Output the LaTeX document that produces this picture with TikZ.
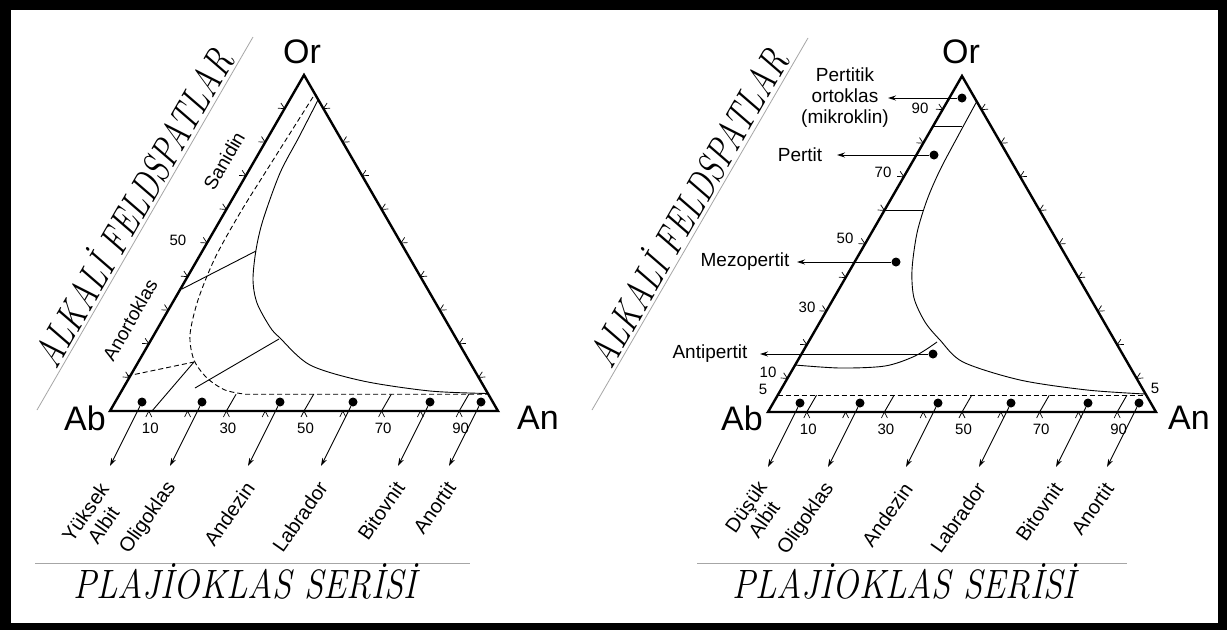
\documentclass[tikz,border=0pt]{standalone}
\usepackage{fontspec}
\usepackage{graphicx}
\newfontfamily\arial{Liberation Sans}
\usetikzlibrary{calc,arrows.meta}
\newcommand\decotext[2]{\scalebox{#1}[1]{\fontsize{41}{41}\selectfont\itshape #2}}
\newcommand\terntri[4]{%
 \coordinate (#1ab) at (#2);
 \coordinate (#1an) at (#3);
 \coordinate (#1or) at (#4);
 \draw[side] (#1ab) -- (#1an) -- (#1or) -- cycle;
 \foreach \k in {1,...,9}{%
  \coordinate (#1b\k) at ($(#1ab)!\k/10!(#1an)$);
  \draw[tickm] ([shift={(-3,6)}]#1b\k) -- (#1b\k) -- ([shift={(3,6)}]#1b\k);
  \coordinate (#1l\k) at ($(#1ab)!\k/10!(#1or)$);
  \draw[tickm] ([shift={(-3.7,-5.6)}]#1l\k) -- (#1l\k) -- ([shift={(-6.7,-0.4)}]#1l\k);
  \coordinate (#1r\k) at ($(#1or)!\k/10!(#1an)$);
  \draw[tickm] ([shift={(6.7,-0.4)}]#1r\k) -- (#1r\k) -- ([shift={(3.7,-5.6)}]#1r\k);
 }%
 \foreach \d [count=\i] in {32,92,170,243,320,371}{%
  \node[dot] (#1d\i) at ([shift={(\d,-9)}]#1ab) {};
  \coordinate (#1t\i) at ([shift={({\d-32},55)}]#1ab);
  \draw[arr] (#1d\i) -- (#1t\i);
 }%
 \foreach \n [count=\i from 2] in {Oligoklas,Andezin,Labrador,Bitovnit,Anortit}{%
  \node[rlab, rotate=55, anchor=east] (#1n\i) at ([shift={(2,18)}]#1t\i) {\n};
 }%
 \foreach \k in {1,3,5,7,9}{%
  \node[num] (#1v\k) at ([shift={(1.5,17)}]#1b\k) {\k0};
 }%
}
\begin{document}
\begin{tikzpicture}[x=1pt,y=-1pt,
  side/.style={line width=2.4pt},
  tickm/.style={line width=0.7pt},
  thinl/.style={line width=0.9pt},
  dashline/.style={line width=0.9pt, dash pattern=on 5pt off 3pt},
  dot/.style={circle, fill=black, inner sep=0pt, minimum size=9pt},
  arr/.style={line width=0.9pt, -{Stealth[length=8pt,width=5pt]}},
  lab/.style={font=\arial\fontsize{19}{21}\selectfont, inner sep=0pt},
  rlab/.style={font=\arial\fontsize{20}{22}\selectfont, inner sep=0pt},
  num/.style={font=\arial\fontsize{15}{17}\selectfont, inner sep=0pt},
  vtx/.style={font=\arial\fontsize{34}{36}\selectfont, inner sep=0pt},
  grayline/.style={draw=black!35, line width=0.8pt},
  deco/.style={inner sep=0pt}]
\useasboundingbox (0,0) rectangle (1227,630);
\fill[black] (0,0) rectangle (1227,630);
\fill[white] (11,10) rectangle (1218,623);

% ---------- left triangle ----------
\terntri{L}{110,411}{498,411}{304,75}
\foreach \k in {3,5,7,9}{\draw[thinl] (Lb\k) -- ([shift={(9.7,-16.8)}]Lb\k);}
\node[vtx] (LOrl) at (302,52) {Or};
\node[vtx] (LAbl) at (85,418) {Ab};
\node[vtx] (LAnl) at (538,418) {An};
\node[rlab, rotate=55, align=center, anchor=north east] (Ln1) at (98,481) {Yüksek\\Albit};
% solvus
\draw[thinl] plot[smooth] coordinates {(318,100) (299,137) (280,173) (263,220) (256,250) (253,280) (257,303) (270,327) (280,338) (310,365) (363,381) (430,391) (488,393.5)};
% dashed boundary
\coordinate (Ld5) at ($(Lan)!0.05!(Lor)$);
\draw[dashline] plot[smooth] coordinates {(313,97) (270,165) (240,213) (215,258) (198,300) (190,335) (194,360) (207,378) (225,390) (245,394.2)} -- (Ld5);
% tie lines
\coordinate (Lk1) at (127,376); \coordinate (Lk2) at (194,362);
\coordinate (Lk3) at (152,411);
\coordinate (Lk4) at (182,289); \coordinate (Lk5) at (256,251);
\coordinate (Lk6) at (195,388); \coordinate (Lk7) at (279,339);
\draw[dashline] (Lk1) -- (Lk2);
\draw[thinl] (Lk3) -- (Lk2);
\draw[thinl] (Lk4) -- (Lk5);
\draw[thinl] (Lk6) -- (Lk7);
\node[lab, rotate=60] (Lsan) at (224,161) {Sanidin};
\node[lab, rotate=60] (Lano) at (130,320) {Anortoklas};
\node[num] (L50) at (178,240) {50};

% ---------- right triangle ----------
\terntri{R}{768,412}{1156,412}{962,76}
\foreach \k in {1,3,5,7,9}{\draw[thinl] (Rb\k) -- ([shift={(9.7,-16.8)}]Rb\k);}
\node[vtx] (ROrl) at (961,52) {Or};
\node[vtx] (RAbl) at (742,418) {Ab};
\node[vtx] (RAnl) at (1189,418) {An};
\node[rlab, rotate=55, align=center, anchor=north east] (Rn1) at (756,479) {Düşük\\Albit};
\draw[thinl] plot[smooth] coordinates {(977,101) (958,136) (940,170) (927,200) (917,233) (912,270) (914,298) (925,322) (940,340) (963,362) (1020,380) (1087,390) (1145,394)};
\coordinate (Rd5a) at ($(Rab)!0.05!(Ror)$);
\coordinate (Rd5b) at ($(Ran)!0.05!(Ror)$);
\draw[dashline] (Rd5a) -- (Rd5b);
\coordinate (Rk1) at (933,126); \coordinate (Rk2) at (962,126);
\coordinate (Rk3) at (885,210); \coordinate (Rk4) at (924,210);
\draw[thinl] (Rk1) -- (Rk2);
\draw[thinl] (Rk3) -- (Rk4);
\draw[thinl] plot[smooth] coordinates {(795,365) (840,368) (885,366) (915,356) (937,342)};
% perthite dots
\node[dot] (Rp1) at (962,98) {};
\node[dot] (Rp2) at (934,155) {};
\node[dot] (Rp3) at (896,262) {};
\node[dot] (Rp4) at (933,354) {};
\coordinate (Rq1) at (888,98);
\coordinate (Rq2) at (837,155);
\coordinate (Rq3) at (797,262);
\coordinate (Rq4) at (760,354);
\foreach \i in {1,2,3,4}{\draw[arr] (Rp\i) -- (Rq\i);}
\node[lab, align=center] (Rl1) at (845,98) {Pertitik\\ortoklas\\(mikroklin)};
\node[lab] (Rl2) at (800,155) {Pertit};
\node[lab] (Rl3) at (745,262) {Mezopertit};
\node[lab] (Rl4) at (710,354) {Antipertit};
\node[num] (Rs90) at (920,108) {90};
\node[num] (Rs70) at (883,172) {70};
\node[num] (Rs50) at (845,238) {50};
\node[num] (Rs30) at (807,307) {30};
\node[num] (Rs10) at (768,372) {10};
\node[num] (Rs5a) at (763,389) {5};
\node[num] (Rs5b) at (1155,388) {5};

% ---------- captions ----------
\coordinate (g1a) at (37,410); \coordinate (g1b) at (253,37);
\coordinate (g2a) at (592,410); \coordinate (g2b) at (808,38);
\coordinate (g3a) at (35,563); \coordinate (g3b) at (470,563);
\coordinate (g4a) at (697,563); \coordinate (g4b) at (1127,563);
\draw[grayline] (g1a) -- (g1b);
\draw[grayline] (g2a) -- (g2b);
\draw[grayline] (g3a) -- (g3b);
\draw[grayline] (g4a) -- (g4b);
\node[deco, rotate=60] (Lalk) at (131,207) {\decotext{0.77}{ALKALİ FELDSPATLAR}};
\node[deco, rotate=60] (Ralk) at (686,207) {\decotext{0.77}{ALKALİ FELDSPATLAR}};
\node[deco] (Lpla) at (245,581) {\decotext{0.85}{PLAJİOKLAS SERİSİ}};
\node[deco] (Rpla) at (904,581) {\decotext{0.85}{PLAJİOKLAS SERİSİ}};
\end{tikzpicture}
\end{document}
